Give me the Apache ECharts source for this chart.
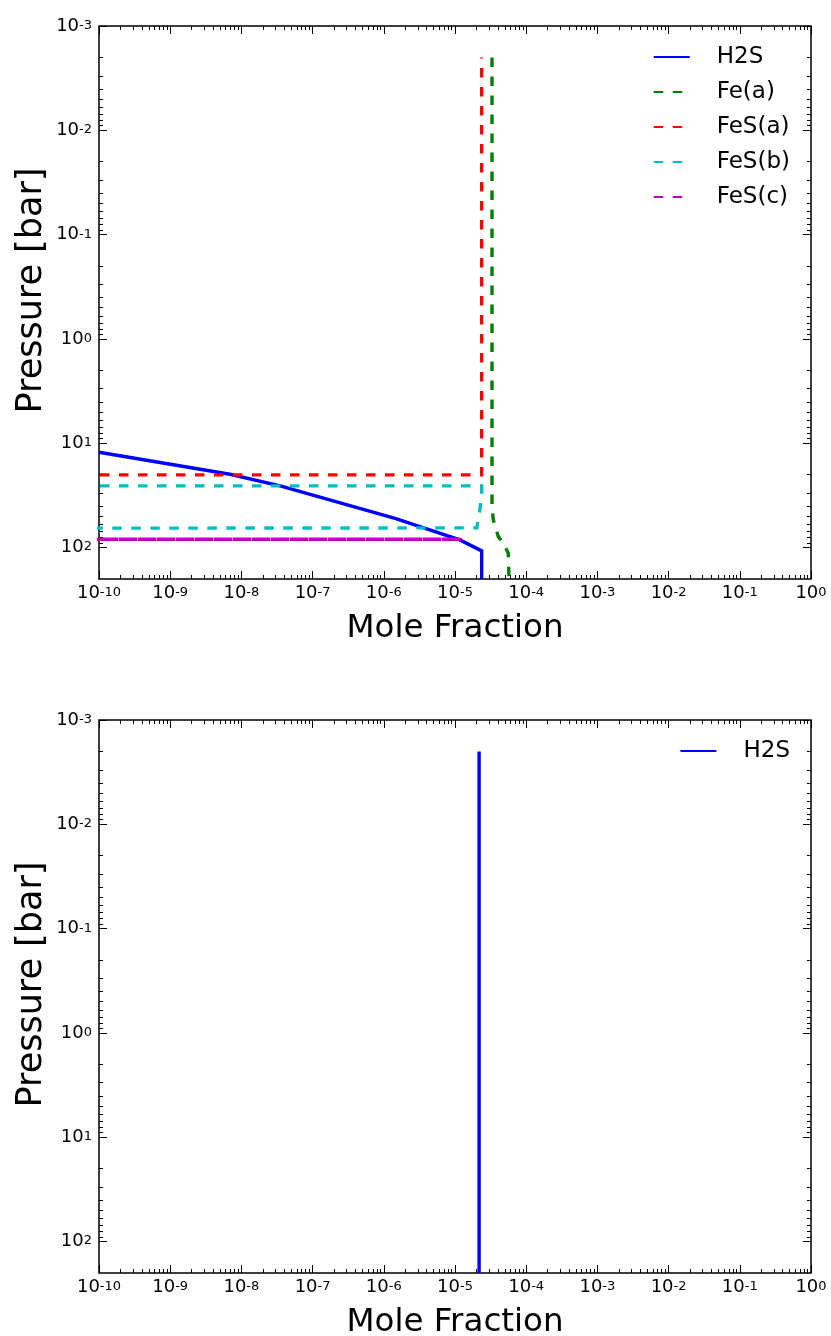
<!DOCTYPE html>
<html>
<head>
<meta charset="utf-8">
<script src="https://cdn.jsdelivr.net/npm/echarts@6/dist/echarts.min.js"></script>
<style>
html,body{margin:0;padding:0;background:#fff;}
#chart{width:831px;height:1336px;}
</style>
</head>
<body>
<div id="chart"></div>
<script>
// ---------- data ----------
const xMajorTicks = [1e-10,1e-9,1e-8,1e-7,1e-6,1e-5,1e-4,1e-3,1e-2,1e-1,1];
const yMajorTicks = [1e-3,1e-2,1e-1,1,10,100];
const X_MIN = 1e-10, X_MAX = 1;
const P_MIN = 1e-3, P_MAX = 200;

// top panel
const h2sX   = [1e-10, 6.9e-9, 3.5e-8, 1.44e-6, 1.17e-5, 2.37e-5, 2.37e-5];
const h2sP   = [12.2, 19.8, 25.6, 52.5, 84.4, 107.6, 200];
const feaX   = [3.31e-5, 3.31e-5, 3.45e-5, 4.06e-5, 4.76e-5, 5.6e-5, 5.73e-5];
const feaP   = [2e-3, 40.5, 54.3, 78.5, 90.8, 113, 200];
const fesaX  = [1e-30, 2.37e-5, 2.37e-5];
const fesaP  = [20.1, 20.1, 2e-3];
const fesbX  = [1e-30, 2.37e-5, 2.37e-5, 2.21e-5, 2.07e-5, 2.02e-5, 1e-30];
const fesbP  = [25.6, 25.6, 31.3, 45.5, 59.3, 64.7, 66.7];
const fescX  = [1e-30, 1.24e-5];
const fescP  = [83.1, 83.1];
// bottom panel
const h2s2X  = [2.18e-5, 2.18e-5];
const h2s2P  = [2e-3, 200];

const legendTop = ['H2S','Fe(a)','FeS(a)','FeS(b)','FeS(c)'];
const legendBottom = ['H2S'];

// ---------- helpers ----------
const FONT = 'DejaVu Sans';
function minorOf(majors, maxV){
  const out = [];
  majors.forEach(m => { for (let k=2;k<=9;k++){ const v = m*k; if (v < maxV) out.push(v); } });
  return out;
}
const xMinorTicks = minorOf(xMajorTicks, X_MAX);
const yMinorTicks = minorOf(yMajorTicks, P_MAX);

function fmt(v){
  const e = Math.round(Math.log10(v));
  return '{b|10}{s|' + e + '}';
}
const rich = {
  b:{fontFamily:FONT,fontSize:18,lineHeight:18,color:'#000',padding:[6,0,6,0]},
  s:{fontFamily:FONT,fontSize:13,lineHeight:13,color:'#000',verticalAlign:'top',padding:[2,0,0,0]}
};
const tickLS = {color:'#000',width:1};

function xAxes(g){
  const base = {type:'log',logBase:10,gridIndex:g,min:X_MIN,max:X_MAX,splitNumber:10,
    axisLine:{show:false},splitLine:{show:false},minorTick:{show:false},nameMoveOverlap:false};
  return [
    Object.assign({},base,{position:'bottom',
      axisTick:{show:true,inside:true,length:8,customValues:xMajorTicks,lineStyle:tickLS},
      axisLabel:{show:true,customValues:xMajorTicks,formatter:fmt,rich:rich,margin:5,showMinLabel:true,showMaxLabel:true,hideOverlap:false,interval:0},
      name:'Mole Fraction',nameLocation:'middle',nameGap:33,
      nameTextStyle:{fontFamily:FONT,fontSize:32.5,color:'#000'}}),
    Object.assign({},base,{position:'top',
      axisTick:{show:true,inside:true,length:8,customValues:xMajorTicks,lineStyle:tickLS},axisLabel:{show:false}}),
    Object.assign({},base,{position:'bottom',
      axisTick:{show:true,inside:true,length:4,customValues:xMinorTicks,lineStyle:tickLS},axisLabel:{show:false}}),
    Object.assign({},base,{position:'top',
      axisTick:{show:true,inside:true,length:4,customValues:xMinorTicks,lineStyle:tickLS},axisLabel:{show:false}})
  ];
}
function yAxes(g){
  const base = {type:'log',logBase:10,gridIndex:g,min:P_MIN,max:P_MAX,inverse:true,splitNumber:6,
    axisLine:{show:false},splitLine:{show:false},minorTick:{show:false},nameMoveOverlap:false};
  return [
    Object.assign({},base,{position:'left',
      axisTick:{show:true,inside:true,length:8,customValues:yMajorTicks,lineStyle:tickLS},
      axisLabel:{show:true,customValues:yMajorTicks,formatter:fmt,rich:rich,margin:7,showMinLabel:true,showMaxLabel:true,hideOverlap:false,interval:0},
      name:'Pressure [bar]',nameLocation:'middle',nameGap:50,
      nameTextStyle:{fontFamily:FONT,fontSize:35,color:'#000',padding:[0,0,0,24]}}),
    Object.assign({},base,{position:'right',
      axisTick:{show:true,inside:true,length:8,customValues:yMajorTicks,lineStyle:tickLS},axisLabel:{show:false}}),
    Object.assign({},base,{position:'left',
      axisTick:{show:true,inside:true,length:4,customValues:yMinorTicks,lineStyle:tickLS},axisLabel:{show:false}}),
    Object.assign({},base,{position:'right',
      axisTick:{show:true,inside:true,length:4,customValues:yMinorTicks,lineStyle:tickLS},axisLabel:{show:false}})
  ];
}
const DASH = [9.5,9.5];
const LW = 3.4;
function line(name, xs, ps, color, dash, ax, extra){
  return Object.assign({
    type:'line', name, xAxisIndex:ax, yAxisIndex:ax,
    data: xs.map((x,i)=>[x, ps[i]]),
    symbol:'none', showSymbol:false, clip:true, silent:true, animation:false,
    lineStyle:{color, width:LW, type:dash, cap:'butt', join:'miter'},
    itemStyle:{color}, emphasis:{disabled:true}
  }, extra||{});
}
const BLUE='#0000ff', GREEN='#008000', RED='#ff0000', CYAN='#00bfbf', MAG='#bf00bf';

const legendCommon = {orient:'vertical', itemWidth:36, itemHeight:14, itemGap:11,
  textStyle:{fontFamily:FONT,fontSize:23,color:'#000',lineHeight:24,padding:[0,0,0,22]},
  itemStyle:{opacity:0}, selectedMode:false, padding:5};

const option = {
  backgroundColor:'#fff',
  animation:false,
  grid:[
    {left:99,right:20,top:26,height:553,show:true,borderColor:'#000',borderWidth:1.5,containLabel:false,outerBoundsMode:'none'},
    {left:99,right:20,top:720,height:553,show:true,borderColor:'#000',borderWidth:1.5,containLabel:false,outerBoundsMode:'none'}
  ],
  xAxis: xAxes(0).concat(xAxes(1)),
  yAxis: yAxes(0).concat(yAxes(1)),
  legend:[
    Object.assign({},legendCommon,{data:legendTop, right:36, top:40}),
    Object.assign({},legendCommon,{data:legendBottom, right:36, top:734})
  ],
  series:[
    line('H2S', h2sX, h2sP, BLUE, 'solid', 0),
    line('Fe(a)', feaX, feaP, GREEN, DASH, 0),
    line('FeS(a)', fesaX, fesaP, RED, DASH, 0),
    line('FeS(b)', fesbX, fesbP, CYAN, DASH, 0),
    line('FeS(c)', fescX, fescP, MAG, DASH, 0),
    line('FeS(c) overlay', fescX, fescP, MAG, DASH, 0, {lineStyle:{color:MAG,width:LW,type:DASH,dashOffset:10,cap:'butt'}}),
    line('H2S', h2s2X, h2s2P, BLUE, 'solid', 4)
  ]
};
const chart = echarts.init(document.getElementById('chart'), null, {renderer:'canvas', width:831, height:1336});
chart.setOption(option);
</script>
</body>
</html>
